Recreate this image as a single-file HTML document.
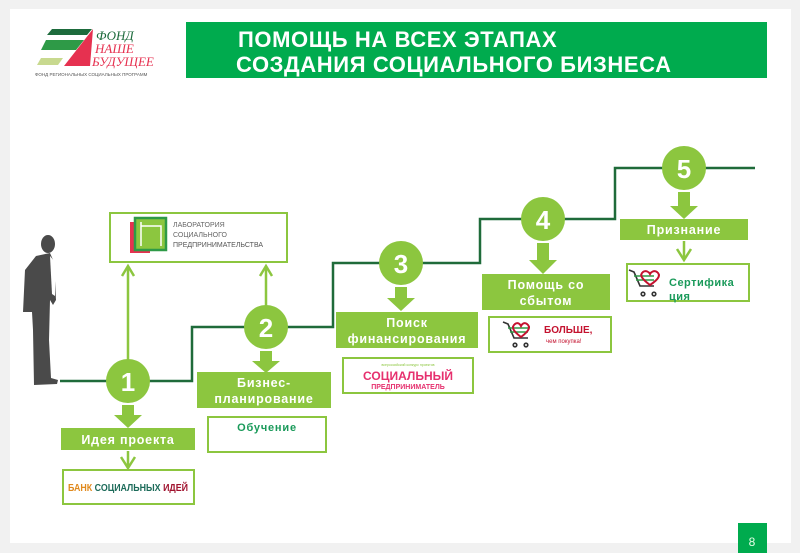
<!DOCTYPE html>
<html><head><meta charset="utf-8"><style>
html,body{margin:0;padding:0;background:#f1f1f1;}
svg{display:block;font-family:"Liberation Sans","DejaVu Sans",sans-serif;}
</style></head><body>
<svg width="800" height="553" viewBox="0 0 800 553" xmlns="http://www.w3.org/2000/svg">
<rect x="0" y="0" width="800" height="553" fill="#f1f1f1"/>
<rect x="10" y="9" width="781" height="534" fill="#fff"/>
<!-- logo -->
<polygon points="52,29 92,29 87,35 47,35" fill="#1d6b3c"/>
<polygon points="46,40 84,40 76,50 41,50" fill="#2e9a47"/>
<polygon points="41,58 63,58 58,65 37,65" fill="#c8d98f"/>
<polygon points="93,29 64,66 90,66" fill="#e63150"/>
<text x="96" y="40" font-size="13" font-style="italic" fill="#1d6b3c" font-family="Liberation Serif,serif">ФОНД</text>
<text x="95" y="53" font-size="13" font-style="italic" fill="#e63150" font-family="Liberation Serif,serif">НАШЕ</text>
<text x="92" y="66" font-size="13" font-style="italic" fill="#e63150" font-family="Liberation Serif,serif">БУДУЩЕЕ</text>
<text x="35" y="76" font-size="4.5" fill="#555">ФОНД РЕГИОНАЛЬНЫХ СОЦИАЛЬНЫХ ПРОГРАММ</text>
<!-- header -->
<rect x="186" y="22" width="581" height="56" fill="#00ab4e"/>
<text x="238" y="47" font-size="22" font-weight="bold" fill="#fff" letter-spacing="0.6">ПОМОЩЬ НА ВСЕХ ЭТАПАХ</text>
<text x="236" y="72" font-size="22" font-weight="bold" fill="#fff" letter-spacing="0.6">СОЗДАНИЯ СОЦИАЛЬНОГО БИЗНЕСА</text>
<!-- person -->
<g fill="#4a4a4a">
<ellipse cx="48" cy="244" rx="7" ry="9"/>
<path d="M36,256 L50,253 L54,262 L56,300 L53,305 L50,300 L49,340 L51,378 L58,380 L57,384 L34,385 L33,330 L32,312 L23,312 L25,270 Z"/>
</g>
<path d="M50,256 L55,262 L55,296 L52,294 Z" fill="#fff"/>
<!-- staircase -->
<polyline points="60,381 192,381 192,327 333,327 333,263 480,263 480,219 615,219 615,168 755,168" fill="none" stroke="#1f6b3a" stroke-width="2.5"/>
<!-- lab box and up arrows -->
<rect x="110" y="213" width="177" height="49" fill="#fff" stroke="#8cc63f" stroke-width="2"/>
<rect x="130" y="222" width="20" height="31" fill="#e63150"/>
<rect x="135" y="218" width="31" height="32" fill="#8cc63f" stroke="#2e9a47" stroke-width="2.5"/>
<path d="M141,222 V246 M141,226 H161 V246" stroke="#fff" stroke-width="1.5" fill="none"/>
<text x="173" y="227" font-size="7" fill="#666">ЛАБОРАТОРИЯ</text>
<text x="173" y="237" font-size="7" fill="#666">СОЦИАЛЬНОГО</text>
<text x="173" y="247" font-size="7" fill="#555">ПРЕДПРИНИМАТЕЛЬСТВА</text>
<g stroke="#8cc63f" stroke-width="2.5" fill="none">
<line x1="128" y1="360" x2="128" y2="266"/>
<polyline points="122,276 128,266 134,276"/>
<line x1="266" y1="306" x2="266" y2="266"/>
<polyline points="260,276 266,266 272,276"/>
</g>
<!-- circles -->
<g fill="#8cc63f">
<circle cx="128" cy="381" r="22"/>
<circle cx="266" cy="327" r="22"/>
<circle cx="401" cy="263" r="22"/>
<circle cx="543" cy="219" r="22"/>
<circle cx="684" cy="168" r="22"/>
</g>
<g fill="#fff" font-size="26" font-weight="bold" text-anchor="middle">
<text x="128" y="391">1</text><text x="266" y="337">2</text><text x="401" y="273">3</text><text x="543" y="229">4</text><text x="684" y="178">5</text>
</g>
<!-- down arrows -->
<g fill="#8cc63f">
<path d="M122,405 h12 v10 h8 l-14,13 l-14,-13 h8 z"/>
<path d="M260,351 h12 v10 h8 l-14,12 l-14,-12 h8 z"/>
<path d="M395,287 h12 v11 h8 l-14,13 l-14,-13 h8 z"/>
<path d="M537,243 h12 v17 h8 l-14,14 l-14,-14 h8 z"/>
<path d="M678,192 h12 v14 h8 l-14,13 l-14,-13 h8 z"/>
</g>
<!-- labels -->
<g fill="#8cc63f">
<rect x="61" y="428" width="134" height="22"/>
<rect x="197" y="372" width="134" height="36"/>
<rect x="336" y="312" width="142" height="36"/>
<rect x="482" y="274" width="128" height="36"/>
<rect x="620" y="219" width="128" height="21"/>
</g>
<g fill="#fff" font-size="12.5" font-weight="bold" text-anchor="middle" letter-spacing="0.8">
<text x="128" y="444">Идея проекта</text>
<text x="264" y="387">Бизнес-</text><text x="264" y="403">планирование</text>
<text x="407" y="327">Поиск</text><text x="407" y="343">финансирования</text>
<text x="546" y="289">Помощь со</text><text x="546" y="305">сбытом</text>
<text x="684" y="234">Признание</text>
</g>
<!-- small chevrons to boxes -->
<g stroke="#8cc63f" stroke-width="2.5" fill="none">
<line x1="128" y1="451" x2="128" y2="468"/><polyline points="121,457 128,468 135,457"/>
<line x1="684" y1="241" x2="684" y2="260"/><polyline points="677,249 684,260 691,249"/>
</g>
<!-- white boxes -->
<g fill="#fff" stroke="#8cc63f" stroke-width="2">
<rect x="63" y="470" width="131" height="34"/>
<rect x="208" y="417" width="118" height="35"/>
<rect x="343" y="358" width="130" height="35"/>
<rect x="489" y="317" width="122" height="35"/>
<rect x="627" y="264" width="122" height="37"/>
</g>
<text x="68" y="491" font-size="10" font-weight="bold" fill="#e08a1e" textLength="120" lengthAdjust="spacingAndGlyphs">БАНК <tspan fill="#1d6b5a">СОЦИАЛЬНЫХ</tspan> <tspan fill="#a0122e">ИДЕЙ</tspan></text>
<text x="267" y="431" font-size="11" font-weight="bold" fill="#1a9a5a" text-anchor="middle" letter-spacing="0.8">Обучение</text>
<text x="408" y="366" font-size="3.5" fill="#8cc63f" text-anchor="middle">всероссийский конкурс проектов</text>
<text x="408" y="380" font-size="12" font-weight="bold" fill="#e6306e" text-anchor="middle">СОЦИАЛЬНЫЙ</text>
<text x="408" y="389" font-size="7" font-weight="bold" fill="#e6306e" text-anchor="middle">ПРЕДПРИНИМАТЕЛЬ</text>
<!-- cart logos -->
<g fill="none" stroke-width="1.6">
<path d="M503,322 l5,2 l6,14 h14" stroke="#333"/>
<path d="M508,328 h20 M510,332 h18" stroke="#2e9a47"/>
<path d="M521,337 c-8,-6 -10,-10 -6,-13 c3,-2 5,0 6,2 c1,-2 3,-4 6,-2 c4,3 2,7 -6,13z" stroke="#c4122f" stroke-width="2"/>
<circle cx="515" cy="345" r="1.8" stroke="#333"/><circle cx="526" cy="345" r="1.8" stroke="#333"/>
<path d="M629,270 l5,2 l6,14 h14" stroke="#333"/>
<path d="M634,276 h20 M636,280 h18" stroke="#2e9a47"/>
<path d="M650,285 c-8,-6 -11,-10 -7,-13 c3,-2 6,0 7,2 c1,-2 4,-4 7,-2 c4,3 2,7 -7,13z" stroke="#c4122f" stroke-width="2"/>
<circle cx="643" cy="294" r="1.8" stroke="#333"/><circle cx="654" cy="294" r="1.8" stroke="#333"/>
</g>
<text x="544" y="333" font-size="10" font-weight="bold" fill="#c4122f">БОЛЬШЕ,</text>
<text x="546" y="343" font-size="6" fill="#c4122f">чем покупка!</text>
<text x="669" y="286" font-size="11" font-weight="bold" fill="#1a9a5a" letter-spacing="0.5">Сертифика</text>
<text x="669" y="300" font-size="11" font-weight="bold" fill="#1a9a5a" letter-spacing="0.5">ция</text>
<!-- page number -->
<rect x="738" y="523" width="29" height="30" fill="#00ab4e"/>
<text x="752" y="546" font-size="12" fill="#e6ffe6" text-anchor="middle">8</text>
</svg>
</body></html>
